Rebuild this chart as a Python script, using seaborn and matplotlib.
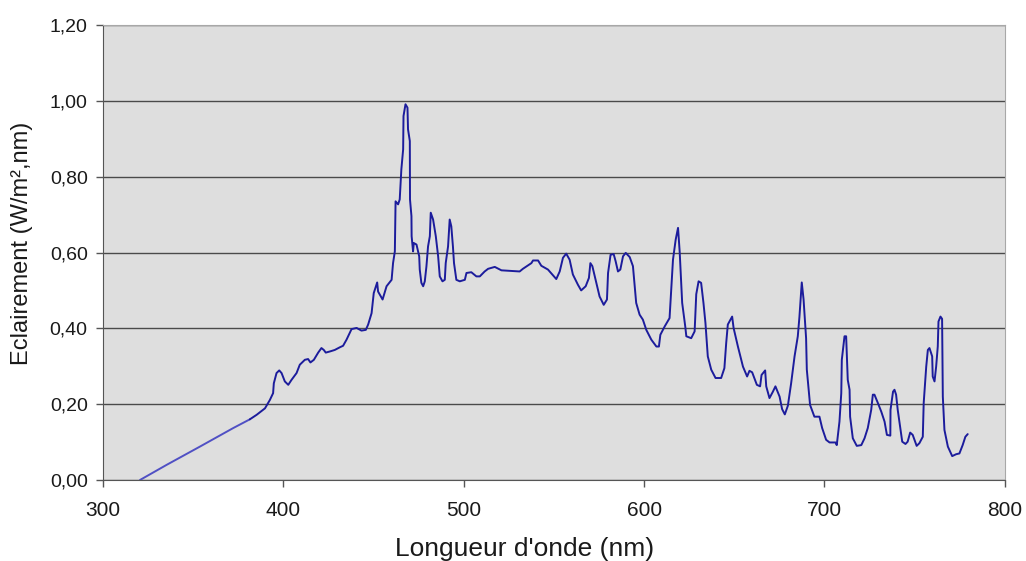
import seaborn as sns
import matplotlib
matplotlib.use("Agg")
import matplotlib.pyplot as plt
from matplotlib.ticker import FuncFormatter, MultipleLocator
import pandas as pd

# spectrum: wavelength (nm) / irradiance (W/m2,nm)
wavelength = [320.5, 335.3, 353.7, 372.2, 381.4,
              385.2, 389.8, 392.5, 394.3, 394.7, 396.2, 397.7, 399.0, 400.8, 402.7,
              404.5, 407.3, 409.1, 411.9, 413.7, 415.0, 416.9, 419.3, 421.1, 422.4,
              423.5, 425.8, 428.5, 431.3, 433.1, 435.0, 437.8, 440.6, 443.3, 445.7,
              447.0, 448.9, 450.1, 452.0, 452.5, 455.0, 457.2, 460.0, 460.8, 461.8,
              462.2, 463.6, 464.5, 465.4, 466.4, 466.6, 467.7, 468.8, 469.1, 470.1,
              470.2, 471.0, 471.1, 471.9, 472.3, 473.8, 475.3, 475.6, 476.5, 477.5,
              478.4, 479.3, 480.2, 481.2, 481.7, 483.0, 484.5, 485.8, 486.7, 488.2,
              489.5, 490.0, 491.3, 492.2, 493.1, 494.0, 494.6, 495.9, 497.8, 500.6,
              501.5, 504.2, 507.0, 508.9, 511.6, 513.5, 517.2, 520.9, 531.0, 532.8,
              537.5, 538.4, 541.2, 543.0, 546.7, 551.3, 553.2, 555.0, 556.8, 558.7,
              560.5, 563.3, 565.1, 567.6, 569.4, 570.2, 571.3, 573.5, 575.3, 577.6,
              579.4, 580.0, 581.4, 583.1, 584.2, 585.5, 586.8, 588.3, 589.8, 592.0,
              593.8, 595.6, 597.5, 599.3, 601.2, 604.0, 606.8, 608.2, 609.0, 611.4,
              614.1, 616.0, 617.5, 618.8, 619.7, 621.1, 622.8, 623.4, 626.1, 628.0,
              628.9, 630.2, 631.6, 632.9, 634.0, 635.3, 637.2, 639.6, 642.7, 644.5,
              645.5, 646.4, 648.8, 649.6, 652.0, 654.8, 657.1, 658.4, 659.9, 662.5,
              664.3, 665.1, 667.1, 667.7, 669.5, 671.4, 672.8, 675.1, 676.5, 678.0,
              679.7, 681.5, 683.4, 685.2, 686.1, 687.4, 688.4, 689.8, 690.2, 692.0,
              694.4, 697.2, 698.7, 700.9, 702.8, 706.1, 706.8, 708.3, 709.3, 709.6,
              711.1, 712.0, 712.9, 713.9, 714.2, 715.7, 717.9, 720.4, 722.2, 724.0,
              725.9, 726.8, 727.7, 729.6, 731.5, 733.3, 734.6, 736.5, 736.6, 738.0,
              738.8, 739.7, 740.6, 741.9, 743.1, 744.9, 746.1, 747.5, 748.9, 749.9,
              751.1, 752.6, 754.5, 755.0, 756.4, 757.3, 758.2, 759.7, 760.0, 761.0,
              761.9, 762.8, 763.2, 764.3, 765.2, 765.6, 766.5, 768.4, 770.8, 773.0,
              774.8, 776.6, 778.1, 779.4]
irradiance = [0.000, 0.040, 0.088, 0.137, 0.160,
              0.172, 0.189, 0.211, 0.229, 0.255, 0.282, 0.289, 0.282, 0.260, 0.251,
              0.264, 0.282, 0.304, 0.317, 0.319, 0.310, 0.317, 0.336, 0.348, 0.343,
              0.336, 0.339, 0.343, 0.350, 0.354, 0.370, 0.398, 0.401, 0.394, 0.396,
              0.410, 0.440, 0.493, 0.521, 0.497, 0.476, 0.511, 0.528, 0.572, 0.603,
              0.735, 0.727, 0.740, 0.819, 0.872, 0.960, 0.991, 0.982, 0.925, 0.894,
              0.740, 0.696, 0.643, 0.603, 0.625, 0.621, 0.590, 0.555, 0.520, 0.511,
              0.524, 0.563, 0.616, 0.643, 0.705, 0.687, 0.643, 0.590, 0.537, 0.524,
              0.528, 0.572, 0.616, 0.687, 0.669, 0.616, 0.572, 0.528, 0.524, 0.528,
              0.546, 0.548, 0.537, 0.537, 0.550, 0.557, 0.562, 0.553, 0.550, 0.557,
              0.572, 0.579, 0.579, 0.565, 0.555, 0.530, 0.550, 0.586, 0.597, 0.581,
              0.542, 0.515, 0.500, 0.511, 0.533, 0.572, 0.564, 0.520, 0.484, 0.462,
              0.476, 0.546, 0.594, 0.596, 0.577, 0.550, 0.555, 0.590, 0.599, 0.588,
              0.564, 0.467, 0.436, 0.423, 0.396, 0.370, 0.352, 0.352, 0.383, 0.405,
              0.427, 0.581, 0.634, 0.665, 0.603, 0.467, 0.405, 0.379, 0.374, 0.392,
              0.490, 0.524, 0.520, 0.467, 0.414, 0.326, 0.291, 0.269, 0.269, 0.295,
              0.361, 0.410, 0.431, 0.401, 0.352, 0.299, 0.273, 0.288, 0.284, 0.251,
              0.247, 0.277, 0.289, 0.247, 0.216, 0.233, 0.247, 0.220, 0.187, 0.173,
              0.196, 0.255, 0.326, 0.379, 0.430, 0.521, 0.476, 0.374, 0.291, 0.198,
              0.167, 0.167, 0.137, 0.106, 0.099, 0.099, 0.092, 0.154, 0.229, 0.317,
              0.379, 0.379, 0.264, 0.238, 0.167, 0.110, 0.090, 0.092, 0.110, 0.137,
              0.185, 0.225, 0.225, 0.203, 0.180, 0.154, 0.119, 0.117, 0.185, 0.233,
              0.238, 0.225, 0.185, 0.141, 0.101, 0.095, 0.101, 0.125, 0.119, 0.106,
              0.090, 0.097, 0.114, 0.203, 0.299, 0.343, 0.348, 0.326, 0.273, 0.260,
              0.299, 0.352, 0.418, 0.431, 0.425, 0.220, 0.132, 0.088, 0.063, 0.068,
              0.070, 0.092, 0.114, 0.121]

df = pd.DataFrame({"wl": wavelength, "E": irradiance})
n_lin = 5  # the first straight ramp looks lighter in the original

sns.set_style("white")
plt.rcParams['font.family'] = ['Liberation Sans', 'DejaVu Sans']

f = plt.figure(figsize=(10.26, 5.61), dpi=100)
ax = f.add_axes([0.1004, 0.1444, 0.879, 0.811])
ax.set_facecolor('#dedede')

sns.lineplot(x="wl", y="E", data=df.iloc[:n_lin], ax=ax, color='#5050c4', lw=1.4, estimator=None, sort=False)
sns.lineplot(x="wl", y="E", data=df.iloc[n_lin - 1:], ax=ax, color='#1c1c9c', lw=1.4, estimator=None, sort=False)

ax.set_xlim(300, 800)
ax.set_ylim(0, 1.2)
ax.xaxis.set_major_locator(MultipleLocator(100))
ax.yaxis.set_major_locator(MultipleLocator(0.2))
ax.yaxis.set_major_formatter(FuncFormatter(lambda v, p: ("%.2f" % v).replace('.', ',')))
ax.grid(axis='y', color='#4a4a4a', lw=1)
ax.set_axisbelow(True)

for s in ['top', 'right']:
    ax.spines[s].set_color('#a8a8a8')
for s in ['left', 'bottom']:
    ax.spines[s].set_color('#555555')
ax.tick_params(axis='both', direction='out', length=5, width=1, color='#555555',
               labelcolor='#1a1a1a', bottom=True, left=True)
ax.tick_params(axis='x', labelsize=15, pad=10)
ax.tick_params(axis='y', labelsize=14, pad=6)

ax.set_xlabel("Longueur d'onde (nm)", fontsize=19, color='#1a1a1a', va='center')
ax.xaxis.set_label_coords(0.467, -0.152)
ax.set_ylabel("Eclairement (W/m²,nm)", fontsize=17, color='#1a1a1a', va='center')
ax.yaxis.set_label_coords(-0.09, 0.521)

f.savefig('out.png', dpi=100)
